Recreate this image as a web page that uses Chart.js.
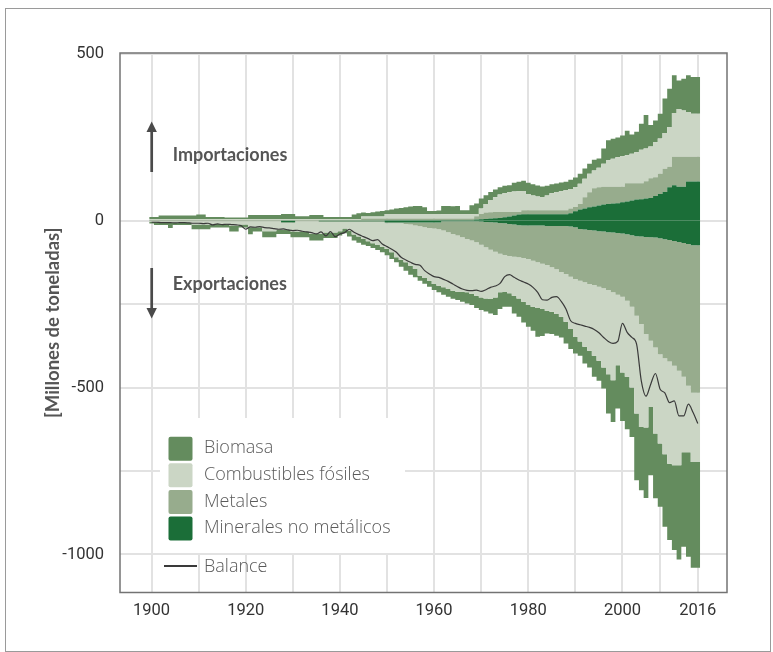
<!DOCTYPE html>
<html>
<head>
<meta charset="utf-8">
<script src="https://cdn.jsdelivr.net/npm/chart.js@4.4.0/dist/chart.umd.min.js"></script>
<style>
  html, body { margin: 0; padding: 0; background: #fff; }
  #grafico { display: block; }
</style>
</head>
<body>
<canvas id="grafico" width="773" height="652"></canvas>
<script>
// años 1900-2016, un valor por año
const primerAnio = 1900;
const anios = Array.from({ length: 117 }, (_, i) => primerAnio + i);

// importaciones (millones de toneladas)
const minImp = [
  0,0,0,0,0,0,0,0,0,0,
  0,0,0,0,0,0,0,0,0,0,
  0,0,0,0,0,0,0,0,0,0,
  0,0,0,0,0,0,0,0,0,0,
  0,0,0,0,0,0,0,0,0,0,
  0,1,1,1,1,1,1,1,1,1,
  1,1,1,1,1,1,1,1,1,1,
  3,4,5,6,7,8,10,12,15,18,
  19,19,19,19,19,19,19,19,19,19,
  22,28,33,36,40,42,45,48,50,51,
  52,55,57,60,63,64,66,68,74,80,
  86,100,106,101,101,117,117
];
const metImp = [
  2,2,2,2,2,2,2,2,2,2,
  2,2,2,2,2,2,2,2,2,2,
  2,2,2,2,2,2,2,2,2,2,
  2,2,2,2,2,2,2,2,2,2,
  2,2,2,2,2,2,6,6,6,6,
  6,5,5,5,5,5,5,5,5,5,
  5,5,5,5,5,5,5,5,5,5,
  10,16,19,19,19,18,16,14,11,8,
  12,12,12,12,12,12,12,12,12,12,
  14,13,17,34,45,55,55,53,51,50,
  49,46,55,52,49,48,52,59,56,60,
  69,61,85,90,90,74,74
];
const combImp = [
  3,3,3,3,3,3,3,3,3,3,
  3,3,3,3,3,3,3,3,3,3,
  3,3,3,3,3,3,3,3,3,3,
  3,3,3,3,3,3,3,3,3,3,
  3,3,3,3,3,3,6,6,6,6,
  6,14,14,14,14,14,14,14,14,14,
  14,14,14,13,13,13,13,13,13,13,
  7,16,26,37,44,52,56,59,61,62,
  58,49,44,41,40,44,51,55,57,61,
  59,59,60,55,55,53,58,69,80,84,
  89,92,84,88,93,100,98,95,105,106,
  107,119,131,143,139,134,129
];
const bioImp = [
  6,6,6,10,10,10,10,10,10,10,
  10,13,13,6,6,6,6,4,4,4,
  4,4,12,12,12,12,12,12,12,15,
  15,15,8,8,8,12,12,12,6,6,
  6,6,6,6,13,17,12,11,13,15,
  17,11,13,16,18,20,22,24,24,20,
  9,9,10,25,25,24,25,12,12,27,
  31,30,26,24,23,22,22,21,26,28,
  30,33,34,33,31,29,27,25,26,24,
  27,29,30,31,30,32,28,46,60,60,
  59,62,73,58,61,78,100,64,65,74,
  104,115,113,86,95,110,110
];

// exportaciones (valores negativos)
const minExp = [
  0,0,0,0,0,0,0,0,0,0,
  0,0,0,0,0,0,0,0,0,0,
  0,0,0,0,0,0,0,0,0,-5,
  -5,-5,0,0,0,0,0,-2,-2,-2,
  -2,-2,-2,-2,-2,-2,-2,-2,-2,-2,
  -2,-6,-6,-6,-6,-6,-6,-6,-6,-6,
  -6,-6,-6,-2,-2,-2,-2,-2,-2,-2,
  -2,-3,-4,-5,-6,-7,-8,-10,-12,-14,
  -15,-15,-15,-15,-15,-16,-16,-16,-16,-16,
  -18,-20,-25,-27,-28,-30,-32,-33,-35,-36,
  -37,-39,-41,-44,-47,-48,-49,-50,-51,-53,
  -56,-58,-61,-64,-67,-70,-74
];
const metExp = [
  -2,-2,-2,-2,-2,-2,-2,-2,-2,-2,
  -2,-2,-2,-2,-2,-2,-2,-2,-2,-2,
  -2,-2,-2,-2,-2,-2,-2,-2,-2,-2,
  -2,-2,-2,-2,-2,-2,-2,-2,-2,-2,
  -2,-2,-2,-2,-2,-2,-2,-2,-2,-2,
  -2,-2,-2,-2,-2,-4,-6,-9,-11,-14,
  -16,-18,-20,-28,-33,-38,-43,-48,-53,-58,
  -63,-69,-76,-82,-87,-92,-95,-96,-96,-96,
  -97,-100,-105,-110,-114,-117,-124,-130,-138,-144,
  -150,-155,-155,-158,-162,-163,-166,-170,-173,-179,
  -185,-189,-199,-214,-238,-262,-291,-310,-329,-347,
  -356,-364,-374,-386,-401,-425,-442
];
const combExp = [
  -2,-2,-2,-2,-2,-4,-4,-4,-4,-4,
  -10,-10,-10,-10,-10,-8,-8,-8,-13,-13,
  -10,-10,-18,-18,-18,-30,-30,-30,-25,-20,
  -20,-26,-31,-31,-31,-38,-38,-36,-32,-32,
  -32,-28,-20,-26,-38,-44,-51,-58,-64,-69,
  -74,-77,-87,-102,-110,-115,-123,-130,-148,-152,
  -158,-166,-169,-170,-170,-170,-168,-163,-160,-160,
  -160,-158,-153,-148,-137,-116,-111,-112,-117,-123,
  -131,-138,-138,-137,-136,-137,-133,-134,-134,-143,
  -157,-173,-182,-193,-200,-212,-222,-237,-252,-263,
  -211,-227,-228,-242,-293,-308,-280,-198,-258,-268,
  -288,-306,-298,-283,-226,-199,-207
];
const bioExp = [
  -5,-5,-9,-9,-9,-16,-7,-7,-7,-7,
  -14,-14,-14,-14,-9,-11,-11,-11,-18,-18,
  -9,-9,-21,-13,-13,-18,-18,-18,-13,-13,
  -13,-17,-17,-17,-17,-20,-20,-20,-16,-16,
  -16,-13,-14,-18,-18,-18,-17,-14,-14,-15,
  -17,-19,-20,-15,-20,-25,-27,-25,-15,-17,
  -18,-18,-20,-22,-23,-24,-25,-30,-33,-33,
  -37,-38,-39,-43,-53,-50,-44,-40,-53,-55,
  -62,-65,-72,-86,-81,-68,-67,-65,-62,-65,
  -60,-50,-43,-50,-50,-63,-60,-63,-118,-125,
  -130,-145,-157,-148,-200,-190,-211,-205,-194,-189,
  -217,-229,-254,-282,-283,-313,-317
];

// balance comercial físico
const balance = [
  -5,-5,-6,-6,-6,-7,-6,-6,-7,-8,
  -8,-9,-8,-13,-10,-12,-11,-12,-13,-15,
  -26,-19,-20,-18,-21,-22,-24,-26,-25,-28,
  -30,-29,-32,-34,-36,-40,-34,-46,-33,-48,
  -40,-36,-26,-35,-42,-48,-54,-60,-57,-70,
  -78,-86,-95,-110,-118,-125,-131,-134,-150,-160,
  -168,-170,-176,-182,-190,-198,-205,-209,-210,-208,
  -212,-207,-200,-196,-188,-168,-162,-170,-178,-184,
  -190,-200,-215,-237,-238,-230,-228,-242,-265,-300,
  -308,-312,-316,-320,-326,-336,-350,-362,-368,-362,
  -308,-335,-350,-370,-480,-526,-490,-458,-505,-516,
  -545,-540,-585,-585,-550,-575,-608
];

const ticksX = [1900, 1910, 1920, 1930, 1940, 1950, 1960, 1970, 1980, 1990, 2000, 2008, 2016];
const etiquetasX = [1900, 1920, 1940, 1960, 1980, 2000, 2016];
const ticksY = [500, 0, -250, -500, -750, -1000];
const etiquetasY = [500, 0, -500, -1000];

const colBio = '#648c5e';
const colComb = '#cbd6c5';
const colMet = '#97ac8d';
const colMin = '#1b6e38';

const fuenteEjes = 'Roboto, "DejaVu Sans Condensed", sans-serif';
const fuenteLeyenda = '"Open Sans", Lato, sans-serif';
const fuenteTexto = 'Lato, "Open Sans", sans-serif';

// cada año ocupa un escalón completo
function escalones(valores) {
  const pts = valores.map((v, i) => ({ x: anios[i] - 0.5, y: v }));
  pts.push({ x: anios[anios.length - 1] + 0.5, y: valores[valores.length - 1] });
  return pts;
}

function area(label, valores, color, stack, fill) {
  return {
    label: label,
    data: escalones(valores),
    backgroundColor: color,
    borderColor: color,
    borderWidth: 0,
    pointRadius: 0,
    stepped: 'after',
    fill: fill,
    stack: stack
  };
}

const extras = {
  id: 'extras',
  beforeDraw(chart) {
    const ctx = chart.ctx;
    ctx.save();
    ctx.strokeStyle = '#9a9a9a';
    ctx.lineWidth = 1;
    ctx.strokeRect(5.5, 8.5, 765, 643);
    ctx.restore();
  },
  afterDraw(chart) {
    const ctx = chart.ctx;
    const a = chart.chartArea;
    ctx.save();

    // marco del gráfico
    ctx.strokeStyle = '#737373';
    ctx.lineWidth = 1.5;
    ctx.strokeRect(a.left, a.top, a.right - a.left, a.bottom - a.top);

    // leyenda
    ctx.fillStyle = '#fff';
    ctx.fillRect(160, 418, 245, 135);
    const items = [3, 2, 1, 0].map(i => chart.data.datasets[i]);
    ctx.font = '300 18px ' + fuenteLeyenda;
    ctx.textBaseline = 'alphabetic';
    items.forEach((ds, i) => {
      ctx.fillStyle = ds.backgroundColor;
      ctx.beginPath();
      ctx.roundRect(168.5, 436.7 + i * 26.6, 24, 24, 2);
      ctx.fill();
      ctx.fillStyle = '#5a5a5a';
      ctx.fillText(ds.label, 204, 453.3 + i * 26.6);
    });
    ctx.strokeStyle = '#3a3a3a';
    ctx.lineWidth = 2;
    ctx.beginPath();
    ctx.moveTo(164, 566);
    ctx.lineTo(197, 566);
    ctx.stroke();
    ctx.fillStyle = '#5a5a5a';
    ctx.fillText('Balance', 204, 571.5);

    // flechas
    ctx.fillStyle = '#4a4a4a';
    ctx.strokeStyle = '#4a4a4a';
    ctx.lineWidth = 2.7;
    ctx.beginPath();
    ctx.moveTo(151.7, 172); ctx.lineTo(151.7, 130);
    ctx.moveTo(151.7, 268); ctx.lineTo(151.7, 310);
    ctx.stroke();
    ctx.beginPath();
    ctx.moveTo(146.5, 132); ctx.lineTo(156.9, 132); ctx.lineTo(151.7, 121.5); ctx.closePath();
    ctx.moveTo(146.5, 308); ctx.lineTo(156.9, 308); ctx.lineTo(151.7, 318.5); ctx.closePath();
    ctx.fill();

    ctx.fillStyle = '#555';
    ctx.font = 'bold 18px ' + fuenteTexto;
    ctx.fillText('Importaciones', 172.7, 160.5);
    ctx.fillText('Exportaciones', 172.7, 289.5);
    ctx.restore();
  }
};

new Chart(document.getElementById('grafico'), {
  type: 'line',
  data: {
    datasets: [
      area('Minerales no metálicos', minImp, colMin, 'imp', 'origin'),
      area('Metales', metImp, colMet, 'imp', '-1'),
      area('Combustibles fósiles', combImp, colComb, 'imp', '-1'),
      area('Biomasa', bioImp, colBio, 'imp', '-1'),
      area('Minerales no metálicos', minExp, colMin, 'exp', 'origin'),
      area('Metales', metExp, colMet, 'exp', '-1'),
      area('Combustibles fósiles', combExp, colComb, 'exp', '-1'),
      area('Biomasa', bioExp, colBio, 'exp', '-1'),
      {
        label: 'Balance',
        data: anios.map((an, i) => ({ x: an, y: balance[i] })),
        borderColor: '#3a3a3a',
        borderWidth: 1.2,
        pointRadius: 0,
        fill: false,
        cubicInterpolationMode: 'monotone',
        stack: 'bal',
        order: -1
      }
    ]
  },
  options: {
    responsive: false,
    animation: false,
    layout: { padding: { top: 53, right: 46, left: 0, bottom: 0 } },
    plugins: { legend: { display: false }, tooltip: { enabled: false } },
    scales: {
      x: {
        type: 'linear',
        min: 1893.3,
        max: 2022.2,
        afterBuildTicks: s => { s.ticks = ticksX.map(v => ({ value: v })); },
        afterFit: s => { s.height = 59.5; },
        grid: { color: '#e2e2e2', lineWidth: 2, drawTicks: false },
        border: { display: false },
        ticks: {
          padding: 8,
          color: '#333',
          autoSkip: false,
          maxRotation: 0,
          font: { family: fuenteEjes, size: 16.5 },
          callback: v => etiquetasX.includes(v) ? String(v) : ''
        }
      },
      y: {
        stacked: true,
        min: -1114,
        max: 502,
        afterBuildTicks: s => { s.ticks = ticksY.map(v => ({ value: v })); },
        afterFit: s => { s.width = 120; },
        grid: { color: '#e2e2e2', lineWidth: 2, drawTicks: false },
        border: { display: false },
        ticks: {
          padding: 16,
          color: '#333',
          font: { family: fuenteEjes, size: 16.5 },
          callback: v => etiquetasY.includes(v) ? String(v) : ''
        },
        title: {
          display: true,
          text: '[Millones de toneladas]',
          color: '#555',
          font: { family: fuenteTexto, size: 18.5, weight: 'bold' },
          padding: { top: 42, bottom: 0 }
        }
      }
    }
  },
  plugins: [extras]
});
</script>
</body>
</html>
